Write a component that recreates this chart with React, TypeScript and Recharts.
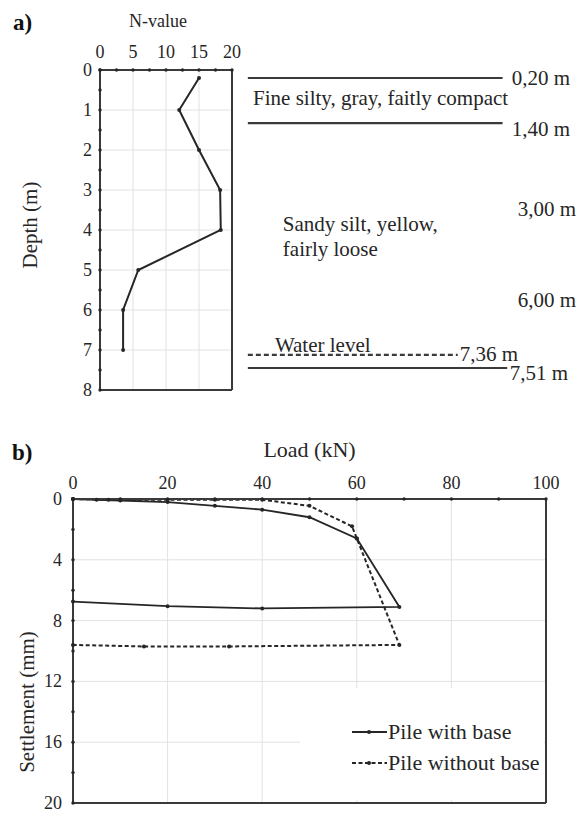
import React from 'react';
import { LineChart, Line, XAxis, YAxis, ReferenceLine, ReferenceDot, Legend } from 'recharts';

const FONT = "'Liberation Serif', 'Times New Roman', serif";
const INK = '#262626';
const FRAME = '#3a3a3a';
const GRID = '#e2e2e2';

// ---------- Panel a : SPT profile ----------
const sptDepth = [0.2, 1, 2, 3, 4, 5, 6, 7];
const sptN = [15, 12, 15, 18.2, 18.3, 5.8, 3.5, 3.5];
const nTicks = [0, 2.5, 5, 7.5, 10, 12.5, 15, 17.5, 20];
const nLabelTicks = [0, 5, 10, 15, 20];
const depthTicks = [0, 0.5, 1, 1.5, 2, 2.5, 3, 3.5, 4, 4.5, 5, 5.5, 6, 6.5, 7, 7.5, 8];
const depthLabelTicks = [0, 1, 2, 3, 4, 5, 6, 7, 8];
const nGrid = [5, 10, 15];
const depthGrid = [1, 2, 3, 4, 5, 6, 7];

// soil-layer annotation (text) and where it sits on the depth / N scales
const layerLineDepth = [0.2, 1.33, 7.12, 7.45];
const layerLineFrom = [22.4, 22.4, 22.4, 22.4];
const layerLineTo = [61, 61, 54.2, 61.7];
const layerLineDash = ['', '', '5 3', ''];
const noteTexts = ['0,20 m', 'Fine silty, gray, faitly compact', '1,40 m', '3,00 m', 'Sandy silt, yellow,', 'fairly loose', '6,00 m', 'Water level', '7,36 m', '7,51 m'];
const noteN = [62.4, 23.2, 62.4, 63.3, 27.7, 27.7, 63.3, 26.5, 54.5, 62.1];
const noteDepth = [0.18, 0.69, 1.46, 3.46, 3.83, 4.46, 5.73, 6.86, 7.08, 7.56];

// ---------- Panel b : load test ----------
const withBaseLoad = [0, 5, 10, 20, 30, 40, 50, 60, 69, 40, 20, 0];
const withBaseSettle = [0, 0.05, 0.1, 0.2, 0.45, 0.7, 1.2, 2.6, 7.1, 7.2, 7.05, 6.75];
const withoutLoad = [0, 7.5, 10, 20, 30, 40, 50, 59, 60, 69, 33, 15, 0];
const withoutSettle = [0, 0.05, 0.05, 0.05, 0.05, 0.05, 0.45, 1.8, 2.6, 9.6, 9.7, 9.7, 9.6];
const loadTicks = [0, 10, 20, 30, 40, 50, 60, 70, 80, 90, 100];
const loadLabelTicks = [0, 20, 40, 60, 80, 100];
const settleTicks = [0, 2, 4, 6, 8, 10, 12, 14, 16, 18, 20];
const settleLabelTicks = [0, 4, 8, 12, 16, 20];
const loadGrid = [20, 40, 60, 80];
const settleGrid = [4, 8, 12, 16];
const seriesNames = ['Pile with base', 'Pile without base'];

const sptData = sptDepth.map((d, i) => ({ n: sptN[i], depth: d }));
const withBaseData = withBaseLoad.map((l, i) => ({ load: l, s: withBaseSettle[i] }));
const withoutData = withoutLoad.map((l, i) => ({ load: l, s: withoutSettle[i] }));

const topTick = (labels: number[], gap: number, size: number) => (p: any) => {
  const { x, y, payload } = p;
  return (
    <g>
      <circle cx={x} cy={y} r={1.7} fill={INK} />
      {labels.includes(payload.value) && (
        <text x={x} y={y - gap} textAnchor="middle" fontSize={size} fill={INK} fontFamily={FONT}>
          {payload.value}
        </text>
      )}
    </g>
  );
};

const leftTick = (labels: number[], gap: number, size: number) => (p: any) => {
  const { x, y, payload } = p;
  return (
    <g>
      <circle cx={x} cy={y} r={1.7} fill={INK} />
      {labels.includes(payload.value) && (
        <text x={x - gap} y={y + 6} textAnchor="end" fontSize={size} fill={INK} fontFamily={FONT}>
          {payload.value}
        </text>
      )}
    </g>
  );
};

const hTitle = (dx: number, baseline: number, size: number) => (p: any) => {
  const vb = p.viewBox;
  return (
    <text x={vb.x + vb.width / 2 + dx} y={vb.y + baseline} textAnchor="middle" fontSize={size} fill={INK} fontFamily={FONT}>
      {p.value}
    </text>
  );
};

const vTitle = (cxOff: number, dy: number, size: number) => (p: any) => {
  const vb = p.viewBox;
  const cx = vb.x + cxOff;
  const cy = vb.y + vb.height / 2 + dy;
  return (
    <text x={cx} y={cy} transform={`rotate(-90 ${cx} ${cy})`} textAnchor="middle" dominantBaseline="central" fontSize={size} fill={INK} fontFamily={FONT}>
      {p.value}
    </text>
  );
};

const axisLineStyle = { stroke: FRAME, strokeWidth: 2 };

const PanelA = () => (
  <LineChart width={586} height={400} margin={{ top: 40, right: 354, bottom: 10, left: 20 }}>
    <XAxis
      type="number"
      dataKey="n"
      orientation="top"
      domain={[0, 20]}
      ticks={nTicks}
      interval={0}
      height={30}
      axisLine={axisLineStyle}
      tickLine={false}
      tickSize={0}
      tickMargin={0}
      tick={topTick(nLabelTicks, 12, 18)}
      label={{ value: 'N-value', content: hTitle(-8, -13, 18) }}
    />
    <YAxis
      type="number"
      domain={[0, 8]}
      reversed
      ticks={depthTicks}
      interval={0}
      width={80}
      axisLine={axisLineStyle}
      tickLine={false}
      tickSize={0}
      tickMargin={0}
      tick={leftTick(depthLabelTicks, 8, 18)}
      label={{ value: 'Depth (m)', content: vTitle(10, -5, 21) }}
    />
    {nGrid.map((v) => (
      <ReferenceLine key={'gx' + v} x={v} stroke={GRID} strokeWidth={1} />
    ))}
    {depthGrid.map((v) => (
      <ReferenceLine key={'gy' + v} y={v} stroke={GRID} strokeWidth={1} />
    ))}
    <ReferenceLine x={20} stroke={FRAME} strokeWidth={2} />
    <ReferenceLine y={8} stroke={FRAME} strokeWidth={2} />
    {layerLineDepth.map((d, i) => (
      <ReferenceLine
        key={'ll' + i}
        segment={[{ x: layerLineFrom[i], y: d }, { x: layerLineTo[i], y: d }]}
        ifOverflow="visible"
        stroke={FRAME}
        strokeWidth={2.2}
        strokeDasharray={layerLineDash[i] || undefined}
      />
    ))}
    {noteTexts.map((t, i) => (
      <ReferenceDot
        key={'nt' + i}
        x={noteN[i]}
        y={noteDepth[i]}
        r={0}
        fill="none"
        stroke="none"
        ifOverflow="visible"
        label={{ value: t, position: 'right', offset: 0, fill: INK, fontSize: 21, fontFamily: FONT }}
      />
    ))}
    <Line
      data={sptData}
      dataKey="depth"
      type="linear"
      stroke={INK}
      strokeWidth={2}
      dot={{ r: 2, fill: INK, stroke: INK, strokeWidth: 0 }}
      isAnimationActive={false}
    />
  </LineChart>
);

const LegendBox = () => (
  <div style={{ position: 'relative', width: 244, height: 112, background: '#fff', fontFamily: FONT }}>
    {seriesNames.map((name, i) => (
      <div
        key={name}
        style={{ position: 'absolute', left: 51, top: 44 + i * 31 - 13, height: 26, display: 'flex', alignItems: 'center', whiteSpace: 'nowrap' }}
      >
        <svg width={37} height={10} style={{ display: 'block' }}>
          <line x1={1} y1={5} x2={36} y2={5} stroke={INK} strokeWidth={2} strokeDasharray={i === 1 ? '4 2.5' : undefined} />
          <circle cx={18} cy={5} r={2} fill={INK} />
        </svg>
        <span style={{ fontSize: 22, lineHeight: '26px', color: INK }}>{name}</span>
      </div>
    ))}
  </div>
);

const PanelB = () => (
  <LineChart width={586} height={383} margin={{ top: 39, right: 40, bottom: 10, left: 13 }}>
    <XAxis
      type="number"
      dataKey="load"
      orientation="top"
      domain={[0, 100]}
      ticks={loadTicks}
      interval={0}
      height={30}
      axisLine={axisLineStyle}
      tickLine={false}
      tickSize={0}
      tickMargin={0}
      tick={topTick(loadLabelTicks, 10, 18)}
      label={{ value: 'Load (kN)', content: hTitle(0, -12, 22) }}
    />
    <YAxis
      type="number"
      domain={[0, 20]}
      reversed
      ticks={settleTicks}
      interval={0}
      width={60}
      axisLine={axisLineStyle}
      tickLine={false}
      tickSize={0}
      tickMargin={0}
      tick={leftTick(settleLabelTicks, 11, 18)}
      label={{ value: 'Settlement (mm)', content: vTitle(14, 51, 21) }}
    />
    {loadGrid.map((v) => (
      <ReferenceLine key={'gx' + v} x={v} stroke={GRID} strokeWidth={1} />
    ))}
    {settleGrid.map((v) => (
      <ReferenceLine key={'gy' + v} y={v} stroke={GRID} strokeWidth={1} />
    ))}
    <ReferenceLine x={100} stroke={FRAME} strokeWidth={2} />
    <ReferenceLine y={20} stroke={FRAME} strokeWidth={2} />
    <Line
      name={seriesNames[0]}
      data={withBaseData}
      dataKey="s"
      type="linear"
      stroke={INK}
      strokeWidth={1.8}
      dot={{ r: 2, fill: INK, stroke: INK, strokeWidth: 0 }}
      isAnimationActive={false}
    />
    <Line
      name={seriesNames[1]}
      data={withoutData}
      dataKey="s"
      type="linear"
      stroke={INK}
      strokeWidth={2}
      strokeDasharray="4 2.5"
      dot={{ r: 2, fill: INK, stroke: INK, strokeWidth: 0, strokeDasharray: '' }}
      isAnimationActive={false}
    />
    <Legend
      layout="vertical"
      align="center"
      verticalAlign="middle"
      content={() => <LegendBox />}
      wrapperStyle={{ position: 'absolute', left: 300, top: 258, width: 244, height: 112 }}
    />
  </LineChart>
);

export default function App() {
  return (
    <div style={{ position: 'absolute', left: 0, top: 0, width: 586, height: 813, background: '#fff', fontFamily: FONT, overflow: 'hidden' }}>
      <svg width={586} height={813} style={{ position: 'absolute', left: 0, top: 0 }}>
        <text x={13} y={30} fontSize={23} fontWeight="bold" fill="#111" fontFamily={FONT}>a)</text>
        <text x={12} y={460} fontSize={23} fontWeight="bold" fill="#111" fontFamily={FONT}>b)</text>
      </svg>
      <div style={{ position: 'absolute', left: 0, top: 0 }}>
        <PanelA />
      </div>
      <div style={{ position: 'absolute', left: 0, top: 430 }}>
        <PanelB />
      </div>
    </div>
  );
}
